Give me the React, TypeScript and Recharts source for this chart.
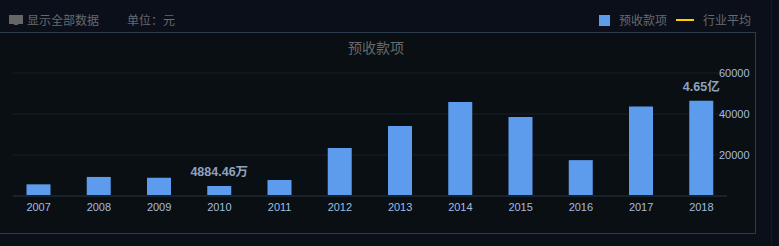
import { ComposedChart, Bar, Line, XAxis, YAxis, CartesianGrid, LabelList, Legend } from 'recharts';

const years = ['2007', '2008', '2009', '2010', '2011', '2012', '2013', '2014', '2015', '2016', '2017', '2018'];
const advanceReceipts = [5700, 9300, 8900, 4884.46, 7800, 23400, 34100, 45800, 38500, 17500, 43700, 46500];
const pointLabels = ['', '', '', '4884.46万', '', '', '', '', '', '', '', '4.65亿'];
const yTicks = [20000, 40000, 60000];

const data = years.map((year, i) => ({
  year,
  advance: advanceReceipts[i],
  label: pointLabels[i],
}));

const cjk = '"Noto Sans CJK SC", sans-serif';
const latin = '"Liberation Sans", sans-serif';
const muted = '#666a6e';

function YTick({ x, y, payload }: any) {
  return (
    <text x={x - 16} y={y + 4} fill="#a3bde0" fontSize={11} fontFamily={latin}>
      {payload.value}
    </text>
  );
}

function LegendRow() {
  const text = { color: muted, fontSize: 12, fontFamily: cjk, lineHeight: '16px' };
  return (
    <div style={{ display: 'flex', alignItems: 'center', height: 16 }}>
      <span style={{ width: 11, height: 11, background: '#5d9cec', marginRight: 9 }} />
      <span style={{ ...text, marginRight: 9 }}>预收款项</span>
      <span style={{ width: 18, height: 2, background: '#ffcc00', marginRight: 9 }} />
      <span style={text}>行业平均</span>
    </div>
  );
}

export default function App() {
  return (
    <div style={{ position: 'fixed', left: 0, top: 0, width: 779, height: 246, background: '#0a0f19', overflow: 'hidden' }}>
      <div style={{ position: 'absolute', left: -2, top: 32, width: 756, height: 200, background: '#0a0f13', border: '1px solid #2b3b4b' }} />
      <div style={{ position: 'absolute', left: 771, top: 0, width: 1, height: 246, background: '#141b26' }} />

      <div style={{ position: 'absolute', left: 9, top: 15, width: 14, height: 9, background: '#666' }} />
      <div style={{ position: 'absolute', left: 14, top: 24, width: 4, height: 1, background: '#666' }} />
      <div style={{ position: 'absolute', left: 27, top: 12, color: muted, fontSize: 12, fontFamily: cjk, lineHeight: '16px' }}>显示全部数据</div>
      <div style={{ position: 'absolute', left: 127, top: 12, color: muted, fontSize: 12, fontFamily: cjk, lineHeight: '16px' }}>单位：元</div>
      <div style={{ position: 'absolute', left: 0, top: 39, width: 752, textAlign: 'center', color: muted, fontSize: 14, fontFamily: cjk, lineHeight: '16px' }}>预收款项</div>

      <ComposedChart
        width={779}
        height={246}
        data={data}
        margin={{ left: 13, right: 51, top: 73, bottom: 4 }}
        style={{ position: 'absolute', left: 0, top: 0 }}
      >
        <CartesianGrid vertical={false} stroke="#151e28" />
        <XAxis
          dataKey="year"
          height={30}
          padding={{ left: -4.5, right: -4.5 }}
          interval={0}
          tickLine={false}
          axisLine={{ stroke: '#18222d', strokeWidth: 2 }}
          tick={{ fill: '#a3bde0', fontSize: 11, fontFamily: latin }}
          tickMargin={1}
        />
        <YAxis
          orientation="right"
          width={1}
          domain={[0, 60000]}
          ticks={yTicks}
          axisLine={false}
          tickLine={false}
          tick={<YTick />}
        />
        <Legend
          content={<LegendRow />}
          wrapperStyle={{ position: 'absolute', left: 599, top: 12, width: 170, bottom: 'auto' }}
        />
        <Bar dataKey="advance" name="预收款项" fill="#5d9cec" barSize={24} isAnimationActive={false}>
          <LabelList
            dataKey="label"
            position="top"
            offset={10}
            fill="#8fa3bf"
            fontSize={12.5}
            fontWeight="bold"
            fontFamily={`${latin.split(',')[0]}, ${cjk}`}
          />
        </Bar>
        <Line dataKey="industry" name="行业平均" stroke="#ffcc00" dot={false} isAnimationActive={false} />
      </ComposedChart>
    </div>
  );
}
